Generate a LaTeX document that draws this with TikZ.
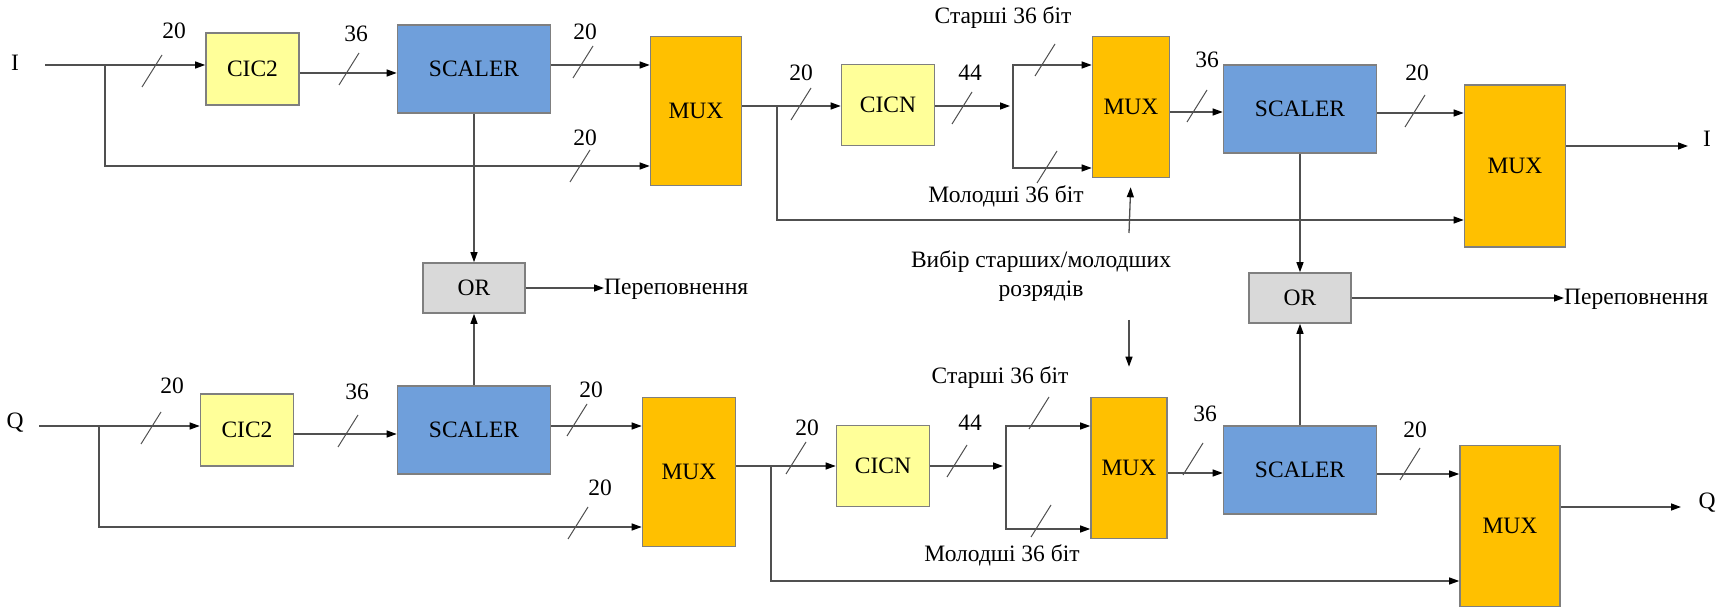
\documentclass[tikz,border=0pt]{standalone}
\usepackage{fontspec}
\setmainfont{Liberation Serif}
\usetikzlibrary{arrows.meta,calc}
\definecolor{cicfill}{HTML}{FFFF99}
\definecolor{scalfill}{HTML}{6F9FDB}
\definecolor{muxfill}{HTML}{FFC000}
\definecolor{orfill}{HTML}{D9D9D9}
\definecolor{edgegray}{HTML}{7F7F7F}
\definecolor{linegray}{HTML}{505050}
\tikzset{
  block/.style={draw=edgegray, line width=1.6pt, inner sep=0pt, align=center},
  cic/.style={block, fill=cicfill, minimum width=93pt, minimum height=72pt},
  cicn/.style={block, fill=cicfill, minimum width=93pt, minimum height=81pt},
  scaler/.style={block, fill=scalfill, minimum width=153pt, minimum height=88pt},
  mux/.style={block, fill=muxfill},
  orgate/.style={block, fill=orfill, minimum width=102pt, minimum height=50pt},
  sig/.style={draw=linegray, line width=1.3pt,
    -{Triangle[length=10pt,width=7pt,color=black]}},
  busmark/.style={draw=linegray, line width=1pt},
  wlabel/.style={inner sep=0pt}
}

\begin{document}
\begin{tikzpicture}[x=1pt,y=-1pt,font=\fontsize{23.5}{29}\selectfont]
  \useasboundingbox (0,0) rectangle (1733,609);
  % I channel
  \node[wlabel] (lblIin) at (15,63) {I};
  \coordinate (inI) at (45,65);
  \coordinate (brA) at (105,65);
  \node[cic] (cicA) at (252.5,69) {CIC2};
  \node[scaler] (scalA) at (474,69) {SCALER};
  \node[mux, minimum width=91pt, minimum height=149pt] (muxA) at (696,111) {MUX};
  \node[cicn] (cicnA) at (888,105) {CICN};
  \node[mux, minimum width=77pt, minimum height=141pt] (muxB) at (1131,107) {MUX};
  \node[scaler] (scalB) at (1300,109) {SCALER};
  \node[mux, minimum width=101pt, minimum height=162pt] (muxC) at (1515,166) {MUX};
  \node[orgate] (orA) at (474,288) {OR};
  \node[orgate] (orB) at (1300,298) {OR};
  \node[wlabel, anchor=west] (ovA) at (604,289) {Переповнення};
  \node[wlabel, anchor=west] (ovB) at (1564,299) {Переповнення};
  \node[wlabel] (lblIout) at (1707,139) {I};
  \coordinate (outI) at (1688,146);
  \coordinate (brB) at (777,106);
  \coordinate (spA) at (1013,106);
  \node[wlabel] (hiA) at (1003,18) {Старші 36 біт};
  \node[wlabel] (loA) at (1006,196) {Молодші 36 біт};

  \draw[sig] (inI) -- (inI -| cicA.west);
  \draw[sig] (brA) |- (muxA.west |- 0,166);
  \draw[sig] (cicA.east |- 0,73) -- (scalA.west |- 0,73);
  \draw[sig] (scalA.east |- 0,65) -- (muxA.west |- 0,65);
  \draw[sig] (scalA.south) -- (orA.north);
  \draw[sig] (orA.east) -- (orA.east -| ovA.west);
  \draw[sig] (muxA.east |- brB) -- (cicnA.west |- brB);
  \draw[sig] (brB) |- (muxC.west |- 0,220);
  \draw[sig, shorten >=3pt] (cicnA.east |- spA) -- (spA);
  \draw[sig] (spA) |- (muxB.west |- 0,65);
  \draw[sig] (spA) |- (muxB.west |- 0,168);
  \draw[sig] (muxB.east |- 0,112) -- (scalB.west |- 0,112);
  \draw[sig] (scalB.east |- 0,113) -- (muxC.west |- 0,113);
  \draw[sig] (muxC.east |- outI) -- (outI);
  \draw[sig] (scalB.south) -- (orB.north);
  \draw[sig] (orB.east) -- (orB.east -| ovB.west);

  % select
  \node[wlabel, align=center] (sel) at (1041,276) {Вибір старших/молодших\\розрядів};
  \coordinate (selA) at (1129,233);
  \coordinate (selB) at (1129,320);
  \draw[sig, shorten >=9pt] (selA) -- (muxB.south);

  % Q channel
  \node[wlabel] (lblQin) at (15,423) {Q};
  \coordinate (inQ) at (39,426);
  \coordinate (brC) at (99,426);
  \node[cic] (cicC) at (247,430) {CIC2};
  \node[scaler] (scalC) at (474,430) {SCALER};
  \node[mux, minimum width=93pt, minimum height=149pt] (muxD) at (689,472) {MUX};
  \node[cicn] (cicnD) at (883,466) {CICN};
  \node[mux, minimum width=76pt, minimum height=141pt] (muxE) at (1129,468) {MUX};
  \node[scaler] (scalD) at (1300,470) {SCALER};
  \node[mux, minimum width=100pt, minimum height=161pt] (muxF) at (1510,526) {MUX};
  \node[wlabel] (lblQout) at (1707,503) {Q};
  \coordinate (outQ) at (1681,507);
  \coordinate (brD) at (771,466);
  \coordinate (spD) at (1006,466);
  \node[wlabel] (hiD) at (1000,378) {Старші 36 біт};
  \node[wlabel] (loD) at (1002,555) {Молодші 36 біт};

  \draw[sig] (inQ) -- (inQ -| cicC.west);
  \draw[sig] (brC) |- (muxD.west |- 0,527);
  \draw[sig] (cicC.east |- 0,434) -- (scalC.west |- 0,434);
  \draw[sig] (scalC.east |- 0,426) -- (muxD.west |- 0,426);
  \draw[sig] (scalC.north) -- (orA.south);
  \draw[sig] (muxD.east |- brD) -- (cicnD.west |- brD);
  \draw[sig] (brD) |- (muxF.west |- 0,581);
  \draw[sig, shorten >=3pt] (cicnD.east |- spD) -- (spD);
  \draw[sig] (spD) |- (muxE.west |- 0,426);
  \draw[sig] (spD) |- (muxE.west |- 0,529);
  \draw[sig] (muxE.east |- 0,473) -- (scalD.west |- 0,473);
  \draw[sig] (scalD.east |- 0,474) -- (muxF.west |- 0,474);
  \draw[sig] (muxF.east |- outQ) -- (outQ);
  \draw[sig] (scalD.north) -- (orB.south);
  \draw[sig, shorten >=30pt] (selB) -- (muxE.north);

  % bus width marks
  \foreach \x/\y in {152/71, 349/69, 583/62, 580/166, 801/104, 962/108,
      1045/60, 1047/167, 1197/106, 1415/111,
      151/428, 348/431, 577/420, 578/523, 796/458, 957/461,
      1039/413, 1041/521, 1193/459, 1410/464}
    \draw[busmark] (\x-10,\y+16) -- (\x+10,\y-16);
  \foreach \x/\y/\t [count=\i] in {174/31/20, 356/34/36, 585/32/20, 585/138/20,
      801/73/20, 970/73/44, 1207/60/36, 1417/73/20,
      172/386/20, 357/392/36, 591/390/20, 600/488/20,
      807/428/20, 970/423/44, 1205/414/36, 1415/430/20}
    \node[wlabel] (w\i) at (\x,\y) {\t};
\end{tikzpicture}
\end{document}
